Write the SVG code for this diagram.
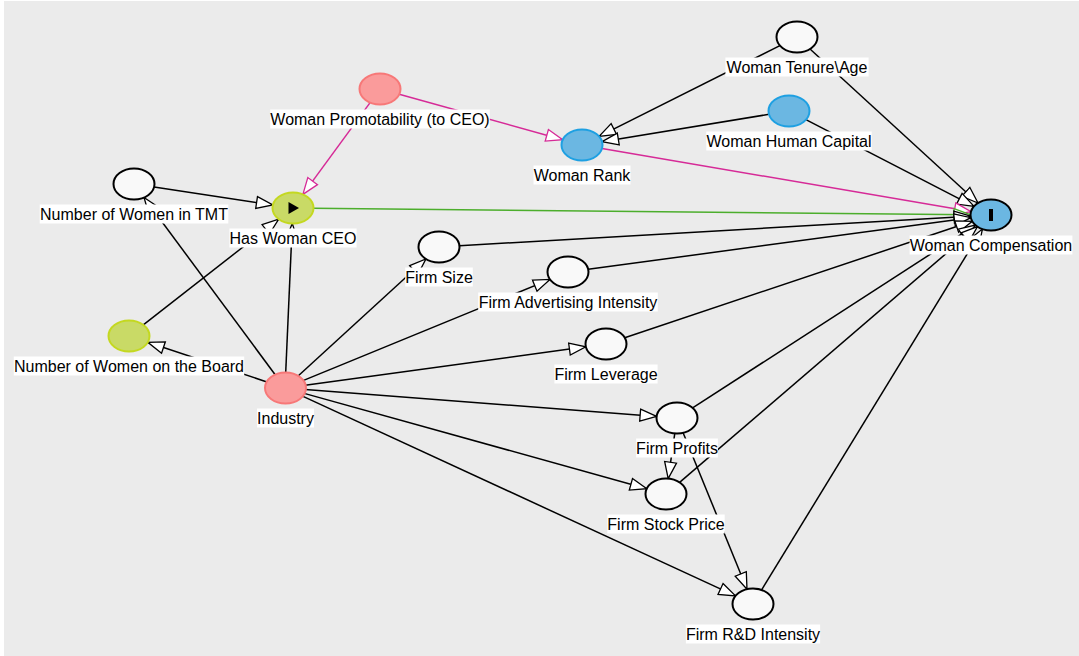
<svg xmlns="http://www.w3.org/2000/svg" width="1079" height="656" viewBox="0 0 1079 656">
<defs>
<style>
.e{fill:none;stroke:#000;stroke-width:1.5}
.m{stroke:#d62a97}
.g{stroke:#4cae2c}
.n{fill:#f9f9f9;stroke:#000;stroke-width:2}
.red{fill:#fa9b9b;stroke:#f77878;stroke-width:2}
.blue{fill:#6bb7e2;stroke:#1ea0e2;stroke-width:2}
.blk{stroke:#000}
.grn{fill:#c9da66;stroke:#c4d820;stroke-width:2}
.lb{fill:#fff}
text{font-family:"Liberation Sans",Arial,sans-serif;font-size:16px;fill:#000;text-anchor:middle}
</style>
<marker id="a" markerUnits="userSpaceOnUse" markerWidth="20" markerHeight="15" refX="16.5" refY="6" orient="auto" viewBox="-1 -1.5 20 15"><path d="M0,0 L16.5,6 L0,12 Z" fill="#fff" stroke="#000" stroke-width="1.3"/></marker>
<marker id="am" markerUnits="userSpaceOnUse" markerWidth="20" markerHeight="15" refX="16.5" refY="6" orient="auto" viewBox="-1 -1.5 20 15"><path d="M0,0 L16.5,6 L0,12 Z" fill="#fff" stroke="#d62a97" stroke-width="1.3"/></marker>
<marker id="ag" markerUnits="userSpaceOnUse" markerWidth="20" markerHeight="15" refX="16.5" refY="6" orient="auto" viewBox="-1 -1.5 20 15"><path d="M0,0 L16.5,6 L0,12 Z" fill="#fff" stroke="#4cae2c" stroke-width="1.3"/></marker>
</defs>
<rect x="0" y="0" width="1079" height="656" fill="#ffffff"/>
<rect x="4" y="1" width="1075" height="655" fill="#ebebeb"/>
<g id="connectors">
<path class="e" marker-end="url(#a)" d="M779.9,45.6 L599.1,136.4"/>
<path class="e" marker-end="url(#a)" d="M810,49 L978,203"/>
<path class="e" marker-end="url(#a)" d="M769,114.3 L602,141.7"/>
<path class="e" marker-end="url(#a)" d="M805.9,119.7 L974,206.3"/>
<path class="e m" marker-end="url(#am)" d="M399.2,94.3 L562.7,139.7"/>
<path class="e m" marker-end="url(#am)" d="M370.1,102.6 L302.9,194.4"/>
<path class="e m" marker-end="url(#am)" d="M602,148.4 L971,211.6"/>
<path class="e g" marker-end="url(#ag)" d="M313.5,208.2 L970.5,214.8"/>
<path class="e" marker-end="url(#a)" d="M154.1,187 L272.9,205"/>
<path class="e" marker-end="url(#a)" d="M143.3,324.9 L278.7,219.1"/>
<path class="e" marker-end="url(#a)" d="M275,374.5 L144,197.5"/>
<path class="e" marker-end="url(#a)" d="M266.2,381.7 L147.8,342.3"/>
<path class="e" marker-end="url(#a)" d="M285.7,372.5 L292.3,223.5"/>
<path class="e" marker-end="url(#a)" d="M298.1,376 L425.9,259"/>
<path class="e" marker-end="url(#a)" d="M303,380.6 L550,279.4"/>
<path class="e" marker-end="url(#a)" d="M305.2,385.2 L585.8,346.8"/>
<path class="e" marker-end="url(#a)" d="M305.4,389.6 L656.6,416.4"/>
<path class="e" marker-end="url(#a)" d="M304.2,393.4 L646.8,488.7"/>
<path class="e" marker-end="url(#a)" d="M302.5,396.1 L735.5,595.9"/>
<path class="e" marker-end="url(#a)" d="M459.4,245.8 L970.6,216.2"/>
<path class="e" marker-end="url(#a)" d="M588.2,269.3 L970.8,217.7"/>
<path class="e" marker-end="url(#a)" d="M624.7,337.7 L972.3,221.3"/>
<path class="e" marker-end="url(#a)" d="M692.6,407.9 L975.4,225.1"/>
<path class="e" marker-end="url(#a)" d="M679.6,482.4 L977.5,226.6"/>
<path class="e" marker-end="url(#a)" d="M761.6,589.9 L982.4,229.1"/>
<path class="e" marker-end="url(#a)" d="M674.8,433.4 L668.2,478.6"/>
<path class="e" marker-end="url(#a)" d="M683.1,432.8 L747,589.2"/>
</g>
<g id="n-tenure"><ellipse class="n" cx="797" cy="37" rx="20.5" ry="15.5"/><rect class="lb" x="725.4" y="57.5" width="143.2" height="19"/><text x="797" y="72.5">Woman Tenure\Age</text></g>
<g id="n-humancap"><ellipse class="blue" cx="789" cy="111" rx="20.5" ry="15.5"/><rect class="lb" x="706.3" y="131.5" width="165.4" height="19"/><text x="789" y="146.5">Woman Human Capital</text></g>
<g id="n-rank"><ellipse class="blue" cx="582" cy="145" rx="20.5" ry="15.5"/><rect class="lb" x="533.5" y="165.5" width="97" height="19"/><text x="582" y="180.5">Woman Rank</text></g>
<g id="n-promot"><ellipse class="red" cx="380" cy="89" rx="20.5" ry="15.5"/><rect class="lb" x="270.2" y="109.5" width="219.6" height="19"/><text x="380" y="124.5">Woman Promotability (to CEO)</text></g>
<g id="n-tmt"><ellipse class="n" cx="134" cy="184" rx="20.5" ry="15.5"/><rect class="lb" x="39.7" y="204.5" width="188.6" height="19"/><text x="134" y="219.5">Number of Women in TMT</text></g>
<g id="n-ceo"><ellipse class="grn blk" cx="293" cy="208" rx="20.5" ry="15.5"/><path d="M288.5,202 L299,208 L288.5,214 Z" fill="#000"/><rect class="lb" x="229.4" y="228.5" width="127.2" height="19"/><text x="293" y="243.5">Has Woman CEO</text></g>
<g id="n-board"><ellipse class="grn" cx="129" cy="336" rx="20.5" ry="15.5"/><rect class="lb" x="13.8" y="356.5" width="230.4" height="19"/><text x="129" y="371.5">Number of Women on the Board</text></g>
<g id="n-industry"><ellipse class="red" cx="285.5" cy="388" rx="20.5" ry="15.5"/><rect class="lb" x="257" y="408.5" width="57" height="19"/><text x="285.5" y="423.5">Industry</text></g>
<g id="n-size"><ellipse class="n" cx="439" cy="247" rx="20.5" ry="15.5"/><rect class="lb" x="405.2" y="267.5" width="67.6" height="19"/><text x="439" y="282.5">Firm Size</text></g>
<g id="n-adv"><ellipse class="n" cx="568" cy="272" rx="20.5" ry="15.5"/><rect class="lb" x="478.2" y="292.5" width="179.6" height="19"/><text x="568" y="307.5">Firm Advertising Intensity</text></g>
<g id="n-lev"><ellipse class="n" cx="606" cy="344" rx="20.5" ry="15.5"/><rect class="lb" x="554.4" y="364.5" width="103.2" height="19"/><text x="606" y="379.5">Firm Leverage</text></g>
<g id="n-profits"><ellipse class="n" cx="677" cy="418" rx="20.5" ry="15.5"/><rect class="lb" x="636.1" y="438.5" width="81.8" height="19"/><text x="677" y="453.5">Firm Profits</text></g>
<g id="n-stock"><ellipse class="n" cx="666" cy="494" rx="20.5" ry="15.5"/><rect class="lb" x="607.3" y="514.5" width="117.4" height="19"/><text x="666" y="529.5">Firm Stock Price</text></g>
<g id="n-rd"><ellipse class="n" cx="753" cy="604" rx="20.5" ry="15.5"/><rect class="lb" x="685.9" y="624.5" width="134.2" height="19"/><text x="753" y="639.5">Firm R&amp;D Intensity</text></g>
<g id="n-comp"><ellipse class="blue blk" cx="991" cy="215" rx="20.5" ry="15.5"/><rect x="989" y="209" width="4" height="12" fill="#000"/><rect class="lb" x="909.6" y="235.5" width="162.8" height="19"/><text x="991" y="250.5">Woman Compensation</text></g>
</svg>
